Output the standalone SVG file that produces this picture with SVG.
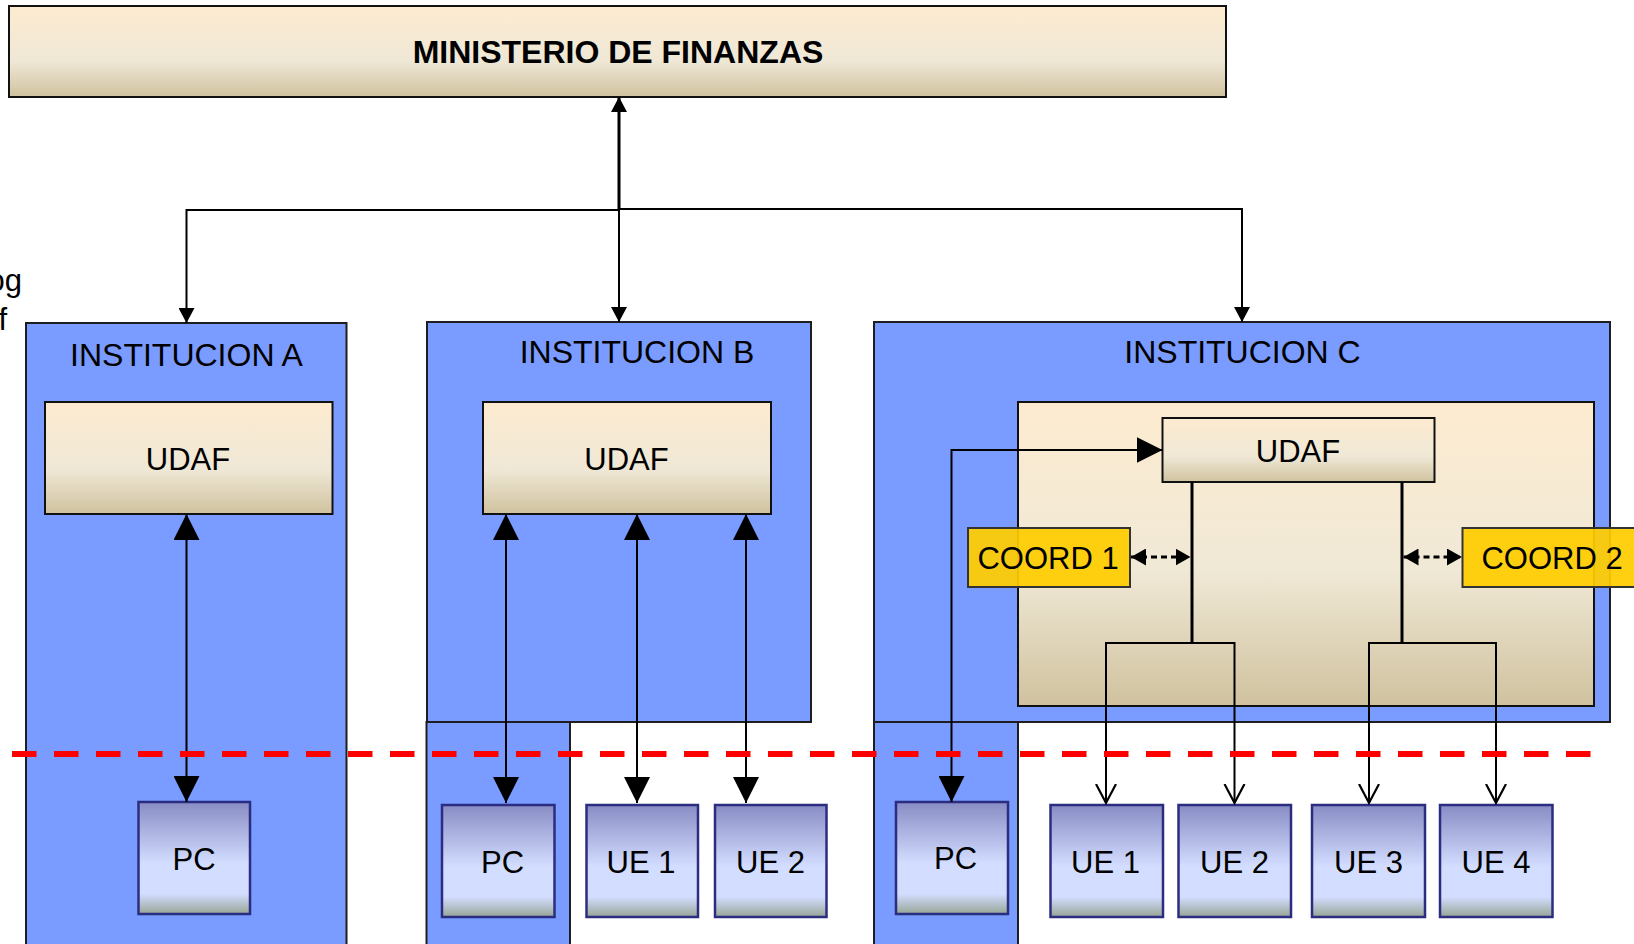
<svg xmlns="http://www.w3.org/2000/svg" width="1634" height="944" viewBox="0 0 1634 944">
<defs>
<linearGradient id="beige" x1="0" y1="0" x2="0" y2="1">
<stop offset="0" stop-color="#FDEBD0"/>
<stop offset="0.6" stop-color="#EFE8D6"/>
<stop offset="1" stop-color="#D0C29F"/>
</linearGradient>
<linearGradient id="beige2" x1="0" y1="0" x2="0" y2="1">
<stop offset="0" stop-color="#FDEBD0"/>
<stop offset="0.55" stop-color="#F0E9D6"/>
<stop offset="1" stop-color="#D0C29F"/>
</linearGradient>
<linearGradient id="lilac" x1="0" y1="0" x2="0" y2="1">
<stop offset="0" stop-color="#888CC4"/>
<stop offset="0.55" stop-color="#D3DDFF"/>
<stop offset="0.82" stop-color="#D3DDFF"/>
<stop offset="1" stop-color="#97A596"/>
</linearGradient>
<marker id="big" markerUnits="userSpaceOnUse" markerWidth="26" markerHeight="26" refX="26" refY="13" orient="auto-start-reverse" viewBox="0 0 26 26">
<path d="M0,0 L26,13 L0,26 z" fill="#000"/>
</marker>
<marker id="small" markerUnits="userSpaceOnUse" markerWidth="15" markerHeight="16" refX="15" refY="8" orient="auto-start-reverse" viewBox="0 0 15 16">
<path d="M0,0 L15,8 L0,16 z" fill="#000"/>
</marker>
<marker id="open" markerUnits="userSpaceOnUse" markerWidth="22" markerHeight="24" refX="19" refY="11" orient="auto-start-reverse" viewBox="0 0 22 24">
<path d="M0,1 L19,11 L0,21" fill="none" stroke="#000" stroke-width="2.2"/>
</marker>
<marker id="tiny" markerUnits="userSpaceOnUse" markerWidth="15" markerHeight="17" refX="15" refY="8.5" orient="auto-start-reverse" viewBox="0 0 15 17">
<path d="M0,0 L15,8.5 L0,17 z" fill="#000"/>
</marker>
</defs>
<style>
.inst{fill:#7A9BFF;stroke:#1E1E1E;stroke-width:2}
.udaf{fill:url(#beige);stroke:#111;stroke-width:2}
.pc{fill:url(#lilac);stroke:#2B2E80;stroke-width:2.5}
.coord{fill:#FFCC00;fill-opacity:0.93;stroke:#333;stroke-width:2}
.t{font-family:"Liberation Sans",Arial,sans-serif;font-size:31px;fill:#000;text-anchor:middle}
.ti{font-family:"Liberation Sans",Arial,sans-serif;font-size:32px;fill:#000;text-anchor:middle}
.tb{font-family:"Liberation Sans",Arial,sans-serif;font-size:32px;font-weight:bold;fill:#000;text-anchor:middle}
.c{fill:none;stroke:#000;stroke-width:2}
.d{fill:none;stroke:#000;stroke-width:3;stroke-dasharray:6 4}
</style>
<rect width="1634" height="944" fill="#fff"/>

<g id="edge-text">
<text x="22" y="291" class="t" style="text-anchor:end">og</text>
<text x="7" y="330" class="t" style="text-anchor:end">f</text>
</g>

<g id="ministerio">
<rect x="9" y="6" width="1217" height="91" fill="url(#beige)" stroke="#111" stroke-width="2"/>
<text x="618" y="63" class="tb">MINISTERIO DE FINANZAS</text>
</g>

<g id="institucion-a">
<rect x="26" y="323" width="320.5" height="640" class="inst"/>
<text x="186.5" y="366" class="ti">INSTITUCION A</text>
</g>
<g id="institucion-b">
<rect x="426.5" y="722" width="143.5" height="240" class="inst"/>
<rect x="427" y="322" width="384" height="400" class="inst"/>
<text x="637" y="363" class="ti">INSTITUCION B</text>
</g>
<g id="institucion-c">
<rect x="874" y="722" width="144" height="240" class="inst"/>
<rect x="874" y="322" width="736" height="400" class="inst"/>
<text x="1242.5" y="363" class="ti">INSTITUCION C</text>
<rect x="1018" y="402" width="576" height="304" fill="url(#beige2)" stroke="#111" stroke-width="2"/>
</g>

<g id="udaf-a">
<rect x="45" y="402" width="287.5" height="112" class="udaf"/>
<text x="188" y="470" class="t">UDAF</text>
</g>
<g id="udaf-b">
<rect x="483" y="402" width="288" height="112" class="udaf"/>
<text x="626.5" y="470" class="t">UDAF</text>
</g>
<g id="udaf-c">
<rect x="1162.5" y="418" width="272" height="64" class="udaf"/>
<text x="1298" y="462" class="t">UDAF</text>
</g>

<g id="pc-a"><rect x="138.5" y="802" width="111.5" height="112" class="pc"/><text x="194" y="870" class="t">PC</text></g>
<g id="pc-b"><rect x="442" y="805" width="112.5" height="112" class="pc"/><text x="502.5" y="873" class="t">PC</text></g>
<g id="ue1-b"><rect x="586.5" y="805" width="111.5" height="112" class="pc"/><text x="641" y="873" class="t">UE 1</text></g>
<g id="ue2-b"><rect x="715" y="805" width="111.5" height="112" class="pc"/><text x="770.5" y="873" class="t">UE 2</text></g>
<g id="pc-c"><rect x="896" y="802" width="112" height="112" class="pc"/><text x="955.5" y="869" class="t">PC</text></g>
<g id="ue1-c"><rect x="1050.5" y="805" width="112.5" height="112" class="pc"/><text x="1105.5" y="873" class="t">UE 1</text></g>
<g id="ue2-c"><rect x="1178.5" y="805" width="112.5" height="112" class="pc"/><text x="1234.5" y="873" class="t">UE 2</text></g>
<g id="ue3-c"><rect x="1312" y="805" width="113" height="112" class="pc"/><text x="1368.5" y="873" class="t">UE 3</text></g>
<g id="ue4-c"><rect x="1440" y="805" width="112.5" height="112" class="pc"/><text x="1496" y="873" class="t">UE 4</text></g>

<g id="connectors">
<path d="M619,97 L619,210" class="c" style="stroke-width:3" marker-start="url(#small)"/>
<path d="M619,210 L619,322" class="c" marker-end="url(#small)"/>
<path d="M619,210 L186.5,210 L186.5,323" class="c" marker-end="url(#small)"/>
<path d="M619,209 L1242,209 L1242,322" class="c" marker-end="url(#small)"/>
<path d="M186.5,514 L186.5,802" class="c" marker-start="url(#big)" marker-end="url(#big)"/>
<path d="M506,514 L506,803" class="c" marker-start="url(#big)" marker-end="url(#big)"/>
<path d="M637,514 L637,803" class="c" marker-start="url(#big)" marker-end="url(#big)"/>
<path d="M746,514 L746,803" class="c" marker-start="url(#big)" marker-end="url(#big)"/>
<path d="M951.5,802 L951.5,450 L1162.5,450" class="c" marker-start="url(#big)" marker-end="url(#big)"/>
<path d="M1192,482 L1192,643" class="c" style="stroke-width:3"/>
<path d="M1402,482 L1402,643" class="c" style="stroke-width:3"/>
<path d="M1106,803 L1106,643 L1234.5,643 L1234.5,803" class="c" marker-start="url(#open)" marker-end="url(#open)"/>
<path d="M1369,803 L1369,643 L1496,643 L1496,803" class="c" marker-start="url(#open)" marker-end="url(#open)"/>
<path d="M1131,557 L1190.5,557" class="d" marker-start="url(#tiny)" marker-end="url(#tiny)"/>
<path d="M1403.5,557 L1462,557" class="d" marker-start="url(#tiny)" marker-end="url(#tiny)"/>
</g>

<g id="coord-1">
<rect x="968" y="528" width="162" height="59" class="coord"/>
<text x="1048" y="569" class="t">COORD 1</text>
</g>
<g id="coord-2">
<rect x="1462.5" y="528" width="190" height="59" class="coord"/>
<text x="1552" y="569" class="t">COORD 2</text>
</g>

<g id="boundary">
<path d="M12,754 L1591,754" fill="none" stroke="#FF0000" stroke-width="6" stroke-dasharray="24.5 17.5"/>
</g>
</svg>
